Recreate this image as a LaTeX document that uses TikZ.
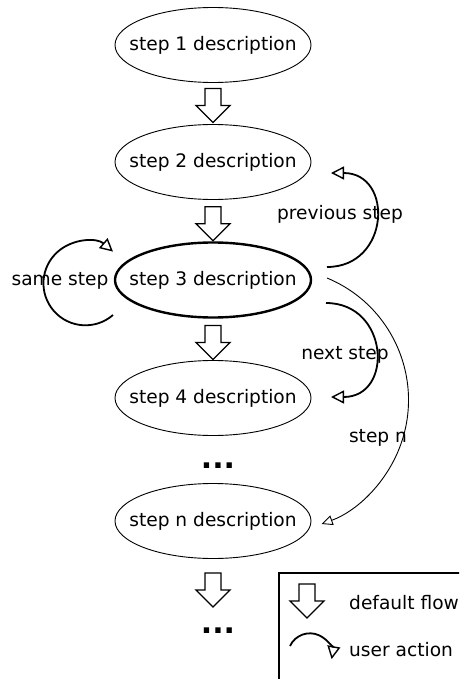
\documentclass[tikz,border=0pt]{standalone}
\usepackage{fontspec}
\setmainfont{DejaVu Sans}
\usetikzlibrary{shapes.geometric,arrows.meta,calc}
\begin{document}
\begin{tikzpicture}[x=1pt,y=-1pt,
  every node/.style={font=\fontsize{18.6}{22}\selectfont},
  stepbox/.style={ellipse, draw, line width=0.9pt, minimum width=196pt, minimum height=75pt, inner xsep=-20pt, inner ysep=-5pt},
  usr/.style={line width=1.8pt, -{Triangle[open,length=13pt,width=13pt,line width=1.4pt]}},
  thinusr/.style={line width=0.9pt, -{Triangle[open,length=11pt,width=10pt,line width=0.9pt]}},
  lbl/.style={inner sep=1pt},
  dots/.style={font=\fontsize{30}{30}\selectfont\bfseries, inner sep=0pt},
  blockarr/.pic={\draw[line width=1.3pt, line join=miter, fill=white] (-8,0) -- (8,0) -- (8,17) -- (17,17) -- (0,34) -- (-17,17) -- (-8,17) -- cycle;}
]
\useasboundingbox (0,0) rectangle (459,679);
\clip (0,0) rectangle (459,679);

\node[stepbox] (s1) at (213,45) {step 1 description};
\node[stepbox] (s2) at (213,162) {step 2 description};
\node[stepbox, line width=2.4pt] (s3) at (213,280) {step 3 description};
\node[stepbox] (s4) at (213,398) {step 4 description};
\node[stepbox] (sn) at (213,521) {step n description};

\node[dots, anchor=base] (d1) at (218,468) {...};
\node[dots, anchor=base] (d2) at (218,633) {...};

% default flow arrows
\pic at ($(s2.north)+(0,-35.5)$) {blockarr};
\pic at ($(s3.north)+(0,-34.5)$) {blockarr};
\pic at ($(s4.north)+(0,-34.5)$) {blockarr};
\pic at ($(sn.south)+(0,14)$) {blockarr};

% user actions
\coordinate (pA) at ($(s3)+(114,-13)$);
\coordinate (pB) at ($(s2)+(118,11)$);
\coordinate (pC1) at ($(pA)+(63,0)$);
\coordinate (pC2) at ($(pB)+(63,0)$);
\draw[usr] (pA) .. controls (pC1) and (pC2) .. (pB);
\node[lbl] (lprev) at (340,214) {previous step};

\coordinate (nA) at ($(s3)+(113,23)$);
\coordinate (nB) at ($(s4)+(118,-1)$);
\coordinate (nC1) at ($(nA)+(63,0)$);
\coordinate (nC2) at ($(nB)+(63,0)$);
\draw[usr] (nA) .. controls (nC1) and (nC2) .. (nB);
\node[lbl] (lnext) at (345,355) {next step};

\coordinate (sA) at ($(s3)+(-100,35)$);
\draw[usr] (sA) arc[start angle=49, end angle=311, radius=42];
\node[lbl] (lsame) at (60,281) {same step};

\coordinate (tA) at ($(s3)+(114,-2)$);
\draw[thinusr] (tA) arc[start angle=-67.5, end angle=70, radius=132];
\node[lbl] (ln) at (378,438) {step n};

% legend
\draw[line width=2.5pt] (279,573) rectangle (490,700);
\pic at (307,584) {blockarr};
\node[anchor=west, inner sep=0pt] (lg1) at (349,603) {default flow};
\coordinate (gA) at (290,646);
\draw[usr] (gA) arc[start angle=-155, end angle=10, radius=22];
\node[anchor=west, inner sep=0pt] (lg2) at (349,650) {user action};
\end{tikzpicture}
\end{document}
